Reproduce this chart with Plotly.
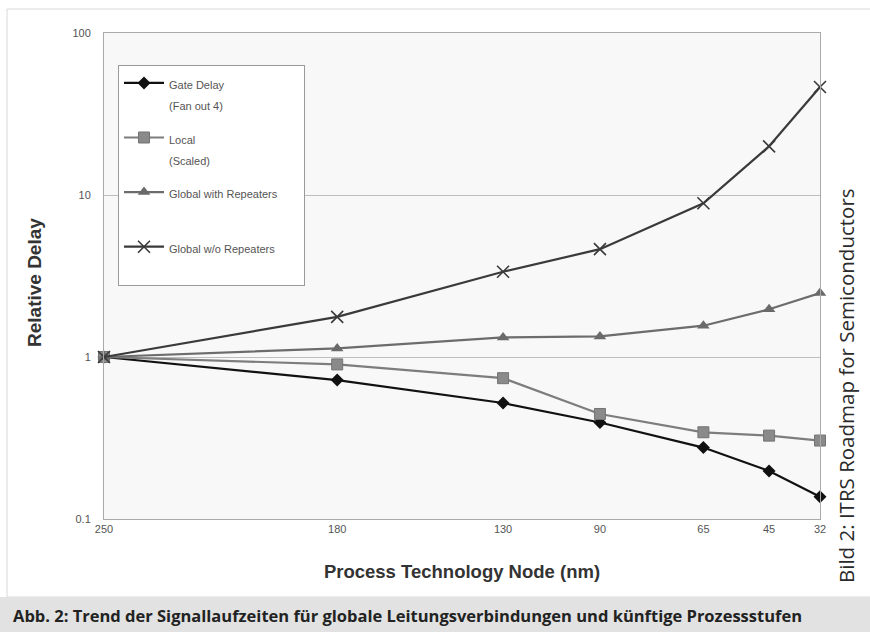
import plotly.graph_objects as go

# ---- data ----
node_labels = ["250", "180", "130", "90", "65", "45", "32"]
# position of each node on the (reversed, linear) x scale, as drawn in the reference
node_axis_value = [250, 179, 128.5, 99, 67.5, 47.5, 32]

gate_delay = [1.0, 0.72, 0.52, 0.394, 0.276, 0.198, 0.137]
local_scaled = [1.0, 0.90, 0.74, 0.445, 0.343, 0.327, 0.305]
global_with_rep = [1.0, 1.13, 1.32, 1.34, 1.56, 1.97, 2.48]
global_wo_rep = [1.0, 1.77, 3.36, 4.63, 8.89, 19.97, 46.4]

y_tick_vals = [0.1, 1, 10, 100]
y_tick_text = ["0.1", "1", "10", "100"]

series_names = [
    "<span style='font-size:11px'>Gate Delay<br>(Fan out 4)</span>",
    "<span style='font-size:11px'>Local<br>(Scaled)</span>",
    "<span style='font-size:11px'>Global with Repeaters&nbsp;&nbsp;&nbsp;&nbsp;&nbsp;&nbsp;&nbsp;<br>&nbsp;</span>",
    "<span style='font-size:11px'>Global w/o Repeaters<br>&nbsp;</span>",
]

caption = "Abb. 2: Trend der Signallaufzeiten für globale Leitungsverbindungen und künftige Prozessstufen"
credit = "Bild 2: ITRS Roadmap for Semiconductors"

# ---- figure ----
W, H = 870, 632
ML, MR, MT, MB = 104, 50, 33, 113
PW, PH = W - ML - MR, H - MT - MB


def px(xp):
    return (xp - ML) / PW


def py(yp):
    return (H - MB - yp) / PH


fig = go.Figure()

styles = [
    dict(line=dict(color="#111111", width=2.2),
         marker=dict(symbol="diamond", size=10, color="#111111")),
    dict(line=dict(color="#7d7d7d", width=2.2),
         marker=dict(symbol="square", size=11, color="#8a8a8a",
                     line=dict(color="#737373", width=1))),
    dict(line=dict(color="#6c6c6c", width=2.2),
         marker=dict(symbol="triangle-up", size=11, color="#6a6a6a")),
    dict(line=dict(color="#3a3a3a", width=2.2),
         marker=dict(symbol="x-thin", size=12, color="#3a3a3a",
                     line=dict(color="#3a3a3a", width=1.6))),
]

for i, (name, vals) in enumerate(zip(series_names,
                                     [gate_delay, local_scaled, global_with_rep, global_wo_rep])):
    fig.add_trace(go.Scatter(
        x=node_axis_value, y=vals, mode="lines+markers", name=name,
        legendgroup=f"g{i}", cliponaxis=False, **styles[i]))

fig.update_layout(
    width=W, height=H,
    margin=dict(l=ML, r=MR, t=MT, b=MB),
    paper_bgcolor="white",
    plot_bgcolor="#f8f8f8",
    font=dict(family="Liberation Sans, Arial, sans-serif", color="#444"),
    showlegend=True,
    legend=dict(
        x=px(118), y=py(65), xanchor="left", yanchor="top",
        bgcolor="white", bordercolor="#9a9a9a", borderwidth=1,
        font=dict(size=16, color="#555"),
        tracegroupgap=10, valign="top", itemwidth=40,
    ),
    xaxis=dict(
        range=[250, 32], tickvals=node_axis_value, ticktext=node_labels,
        showgrid=False, zeroline=False, showline=True, mirror=True,
        linecolor="#aaaaaa", linewidth=1, ticks="",
        tickfont=dict(size=11, color="#555555"),
        title=dict(text="<b>Process Technology Node (nm)</b>",
                   font=dict(size=18.5, color="#333"), standoff=30),
    ),
    yaxis=dict(
        type="log", range=[-1, 2], tickvals=y_tick_vals, ticktext=y_tick_text,
        showgrid=True, gridcolor="#bdbdbd", gridwidth=1, zeroline=False,
        showline=True, mirror=True, linecolor="#aaaaaa", linewidth=1, ticks="",
        tickfont=dict(size=11, color="#555555"), ticklabelstandoff=10,
    ),
    shapes=[
        dict(type="rect", xref="paper", yref="paper",
             x0=px(7), x1=px(880), y0=py(597), y1=py(9),
             line=dict(color="#d8d8d8", width=1), fillcolor="rgba(0,0,0,0)", layer="below"),
        dict(type="rect", xref="paper", yref="paper",
             x0=px(0), x1=px(870), y0=py(632), y1=py(597),
             line=dict(width=0), fillcolor="#e1e2e1", layer="below"),
    ],
    annotations=[
        dict(text="<b>Relative Delay</b>", xref="paper", yref="paper", textangle=-90,
             x=px(34), y=py(283), xanchor="center", yanchor="middle", showarrow=False,
             font=dict(size=19, color="#333")),
        dict(text=f"<b>{caption}</b>", xref="paper", yref="paper",
             x=px(11), y=py(615), xanchor="left", yanchor="middle", showarrow=False,
             font=dict(family="Open Sans, sans-serif", size=16.5, color="#222")),
        dict(text=credit, xref="paper", yref="paper", textangle=-90,
             x=px(846), y=py(386), xanchor="center", yanchor="middle", showarrow=False,
             font=dict(family="Open Sans, sans-serif", size=20.5, color="#2a2a2a")),
    ],
)

fig.write_html("out.html", config={"displayModeBar": False},
               post_script="document.body.style.margin='0px';")
